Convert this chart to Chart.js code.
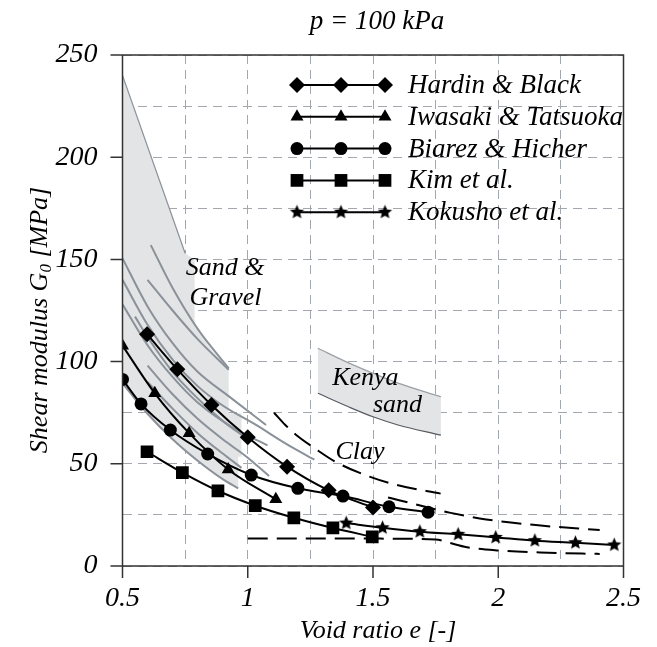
<!DOCTYPE html>
<html>
<head>
<meta charset="utf-8">
<script src="https://cdn.jsdelivr.net/npm/chart.js@4"></script>
<style>
  html, body { margin: 0; padding: 0; background: #fff; }
</style>
</head>
<body>
<canvas id="chart" width="657" height="647"></canvas>
<script>
// tick labels
const xTickLabels = [0.5, 1, 1.5, 2, 2.5];
const yTickLabels = [0, 50, 100, 150, 200, 250];

// series (void ratio e, G0 in MPa)
const hardinE = [0.598, 0.719, 0.855, 1.0, 1.157, 1.323, 1.5];
const hardinG = [113.4, 96.2, 78.8, 63, 48.6, 37, 28.6];
const iwasakiE = [0.5, 0.629, 0.766, 0.922, 1.112];
const iwasakiG = [107.8, 84.5, 65, 47.2, 32.6];
const biarezE = [0.5, 0.574, 0.691, 0.84, 1.014, 1.2, 1.38, 1.564, 1.72];
const biarezG = [91.3, 79.3, 66.5, 54.8, 44.5, 38, 34.2, 29, 26.3];
const kimE = [0.598, 0.739, 0.881, 1.03, 1.184, 1.34, 1.497];
const kimG = [55.9, 45.7, 36.8, 29.5, 23.6, 18.6, 14.3];
const kokushoE = [1.393, 1.538, 1.687, 1.84, 1.99, 2.146, 2.308, 2.463];
const kokushoG = [21, 18.7, 16.8, 15.5, 14, 12.4, 11.4, 10.3];

// clay (dashed)
const clayUpper = [[1.105, 75], [1.15, 69], [1.2, 63.5], [1.266, 57.7], [1.35, 51], [1.486, 43.7], [1.6, 39.5], [1.77, 35.4]];
const clayMiddle = [[1.56, 33.5], [1.6, 32.3], [1.72, 28.6], [1.81, 26], [1.952, 22.8], [2.15, 20], [2.405, 17.6]];
const clayLower = [[1.0, 13.5], [1.5, 13.4], [1.75, 13], [1.8, 11.5], [1.875, 9.2], [2.0, 7.6], [2.2, 6.5], [2.405, 5.9]];

// sand & gravel band
const gravelShade = [[0.5, 240], [0.75, 153], [0.788, 150], [0.788, 117], [0.86, 105], [0.924, 96.7], [0.924, 74.7],
  [0.975, 74.7], [0.975, 53.5], [0.962, 53.5], [0.962, 38], [0.9, 42.5], [0.8, 51.5], [0.7, 62], [0.6, 74.5], [0.5, 89.4]];
const gravelEdge = [[0.5, 240], [0.75, 153]];
const gravelLines = [
  [[0.613, 157], [0.7, 136], [0.8, 116], [0.924, 96.7]],
  [[0.6, 140], [0.7, 125], [0.8, 111], [0.924, 96]],
  [[0.5, 150.5], [0.6, 127], [0.7, 109], [0.8, 95], [0.93, 82.5], [1.073, 69]],
  [[0.5, 140], [0.6, 118], [0.7, 101], [0.8, 88], [0.9, 78.5], [1.033, 69], [1.15, 60], [1.266, 52]],
  [[0.5, 128], [0.6, 108], [0.7, 92.5], [0.8, 80], [0.95, 67], [1.079, 59]],
  [[0.55, 122], [0.6, 112], [0.7, 95], [0.8, 82], [0.9, 71], [1.0, 62]],
  [[0.6, 98], [0.7, 84], [0.8, 72], [0.9, 62], [1.0, 53], [1.085, 44]],
  [[0.6, 90], [0.7, 77], [0.8, 65], [0.9, 55], [0.975, 48]],
  [[0.5, 89.4], [0.6, 74.5], [0.7, 62], [0.8, 51.5], [0.9, 42.5], [0.962, 38]]
];

// kenya sand band
const kenyaUpper = [[1.28, 106.5], [1.4, 99.5], [1.5, 94.3], [1.6, 89.5], [1.771, 82.8]];
const kenyaLower = [[1.28, 84.5], [1.4, 78], [1.5, 73], [1.6, 69], [1.771, 64]];

const pts = (e, g) => e.map((v, i) => ({ x: v, y: g[i] }));
const pairs = a => a.map(p => ({ x: p[0], y: p[1] }));

const FONT = 'Liberation Serif, Times New Roman, serif';
const GRAY = '#8a9199';

// filled five point star marker
function starMarker(r) {
  const c = document.createElement('canvas');
  c.width = c.height = r * 2 + 2;
  const g = c.getContext('2d');
  g.fillStyle = '#000';
  g.beginPath();
  for (let i = 0; i < 10; i++) {
    const rad = i % 2 ? r * 0.45 : r;
    const a = -Math.PI / 2 + i * Math.PI / 5;
    g.lineTo(c.width / 2 + rad * Math.cos(a), c.height / 2 + rad * Math.sin(a));
  }
  g.closePath();
  g.fill();
  return c;
}
const star = starMarker(7.5);

const series = [
  { label: 'Hardin & Black', data: pts(hardinE, hardinG), style: 'rectRot', r: 8 },
  { label: 'Iwasaki & Tatsuoka', data: pts(iwasakiE, iwasakiG), style: 'triangle', r: 7.5 },
  { label: 'Biarez & Hicher', data: pts(biarezE, biarezG), style: 'circle', r: 6.5 },
  { label: 'Kim et al.', data: pts(kimE, kimG), style: 'rect', r: 9 },
  { label: 'Kokusho et al.', data: pts(kokushoE, kokushoG), style: star, r: 7.5 }
];

const datasets = [];
datasets.push({ data: pairs(gravelShade), fill: 'shape', backgroundColor: '#e3e4e5', borderWidth: 0, pointRadius: 0, tension: 0 });
datasets.push({ data: pairs(kenyaUpper.concat(kenyaLower.slice().reverse())), fill: 'shape', backgroundColor: '#e3e4e5', borderWidth: 0, pointRadius: 0, tension: 0 });
datasets.push({ data: pairs(gravelEdge), borderColor: GRAY, borderWidth: 1.2, pointRadius: 0 });
gravelLines.forEach(l => datasets.push({ data: pairs(l), borderColor: GRAY, borderWidth: 2, pointRadius: 0, cubicInterpolationMode: 'monotone' }));
datasets.push({ data: pairs(kenyaUpper), borderColor: '#9aa0a6', borderWidth: 1.2, pointRadius: 0, cubicInterpolationMode: 'monotone' });
datasets.push({ data: pairs(kenyaLower), borderColor: '#555b62', borderWidth: 1.2, pointRadius: 0, cubicInterpolationMode: 'monotone' });
[clayUpper, clayMiddle, clayLower].forEach(l => datasets.push({
  data: pairs(l), borderColor: '#000', borderWidth: 2, borderDash: [20, 9], pointRadius: 0, cubicInterpolationMode: 'monotone'
}));
series.forEach(s => datasets.push({
  label: s.label, data: s.data, borderColor: '#000', backgroundColor: '#000', borderWidth: 2,
  pointStyle: s.style, pointRadius: s.r, pointBackgroundColor: '#000', pointBorderWidth: 0,
  cubicInterpolationMode: 'monotone'
}));
// first pushed goes to the back
datasets.forEach((d, i) => { d.order = datasets.length - i; });

const decor = {
  id: 'decor',
  afterDraw(chart) {
    const { ctx, chartArea: a, scales: { x, y } } = chart;
    ctx.save();
    // frame and outer ticks
    ctx.strokeStyle = '#333';
    ctx.lineWidth = 1.5;
    ctx.beginPath();
    ctx.moveTo(a.left - 12, a.top); ctx.lineTo(a.right, a.top); ctx.lineTo(a.right, a.bottom); ctx.lineTo(a.left - 12, a.bottom);
    ctx.moveTo(a.left, a.top); ctx.lineTo(a.left, a.bottom);
    yTickLabels.forEach(v => { const py = y.getPixelForValue(v); ctx.moveTo(a.left - 12, py); ctx.lineTo(a.left, py); });
    xTickLabels.forEach(v => { const px = x.getPixelForValue(v); ctx.moveTo(px, a.bottom); ctx.lineTo(px, a.bottom + 12); });
    ctx.stroke();

    ctx.fillStyle = '#000';
    ctx.textAlign = 'center';
    ctx.textBaseline = 'middle';
    ctx.font = 'italic 27px ' + FONT;
    ctx.fillText('p = 100 kPa', 377, 22);
    ctx.font = 'italic 26px ' + FONT;
    ctx.fillText('Void ratio e [-]', 378, 631);

    // y title with subscript
    ctx.translate(40, 320);
    ctx.rotate(-Math.PI / 2);
    const p1 = 'Shear modulus G', p3 = ' [MPa]';
    ctx.font = 'italic 26px ' + FONT;
    const w1 = ctx.measureText(p1).width, w3 = ctx.measureText(p3).width;
    ctx.font = 'italic 17px ' + FONT;
    const w2 = ctx.measureText('0').width;
    let sx = -(w1 + w2 + w3) / 2;
    ctx.textAlign = 'left';
    ctx.font = 'italic 26px ' + FONT;
    ctx.fillText(p1, sx, 0);
    ctx.font = 'italic 17px ' + FONT;
    ctx.fillText('0', sx + w1, 7);
    ctx.font = 'italic 26px ' + FONT;
    ctx.fillText(p3, sx + w1 + w2, 0);
    ctx.setTransform(1, 0, 0, 1, 0, 0);

    // annotations
    ctx.font = 'italic 26px ' + FONT;
    ctx.textAlign = 'left';
    ctx.textBaseline = 'alphabetic';
    const label = (t, e, g) => ctx.fillText(t, x.getPixelForValue(e), y.getPixelForValue(g));
    label('Sand &', 0.752, 142.5);
    label('Gravel', 0.767, 127.5);
    label('Kenya', 1.337, 88.5);
    label('sand', 1.5, 75.5);
    label('Clay', 1.35, 52.5);

    // legend
    ctx.font = 'italic 27px ' + FONT;
    ctx.textBaseline = 'middle';
    series.forEach((s, i) => {
      const ly = 85 + i * 31.8;
      ctx.strokeStyle = '#000';
      ctx.lineWidth = 2;
      ctx.beginPath(); ctx.moveTo(297, ly); ctx.lineTo(385, ly); ctx.stroke();
      ctx.fillStyle = '#000';
      [297, 341, 385].forEach(px => Chart.helpers.drawPoint(ctx, { pointStyle: s.style, radius: s.r, rotation: 0, borderWidth: 0 }, px, ly));
      ctx.fillText(s.label, 408, ly + 1);
    });
    ctx.restore();
  }
};

new Chart(document.getElementById('chart'), {
  type: 'line',
  data: { datasets },
  options: {
    responsive: false,
    animation: false,
    layout: { padding: { top: 55, right: 19, left: 0, bottom: 0 } },
    plugins: { legend: { display: false }, tooltip: { enabled: false } },
    elements: { line: { fill: false } },
    scales: {
      x: {
        type: 'linear', min: 0.5, max: 2.5,
        afterFit: s => { s.height = 81; },
        ticks: {
          stepSize: 0.25, autoSkip: false, maxRotation: 0, padding: 16, color: '#000',
          font: { family: FONT, style: 'italic', size: 28 },
          callback: v => xTickLabels.includes(v) ? String(v) : ''
        },
        grid: { color: '#a3a8ae', lineWidth: 1, drawTicks: false },
        border: { display: false, dash: [9, 6] }
      },
      y: {
        type: 'linear', min: 0, max: 250,
        afterFit: s => { s.width = 122.5; },
        ticks: {
          stepSize: 25, autoSkip: false, padding: 25, color: '#000',
          font: { family: FONT, style: 'italic', size: 28 },
          callback: v => yTickLabels.includes(v) ? String(v) : ''
        },
        grid: { color: '#a3a8ae', lineWidth: 1, drawTicks: false },
        border: { display: false, dash: [9, 6] }
      }
    }
  },
  plugins: [decor]
});
</script>
</body>
</html>
